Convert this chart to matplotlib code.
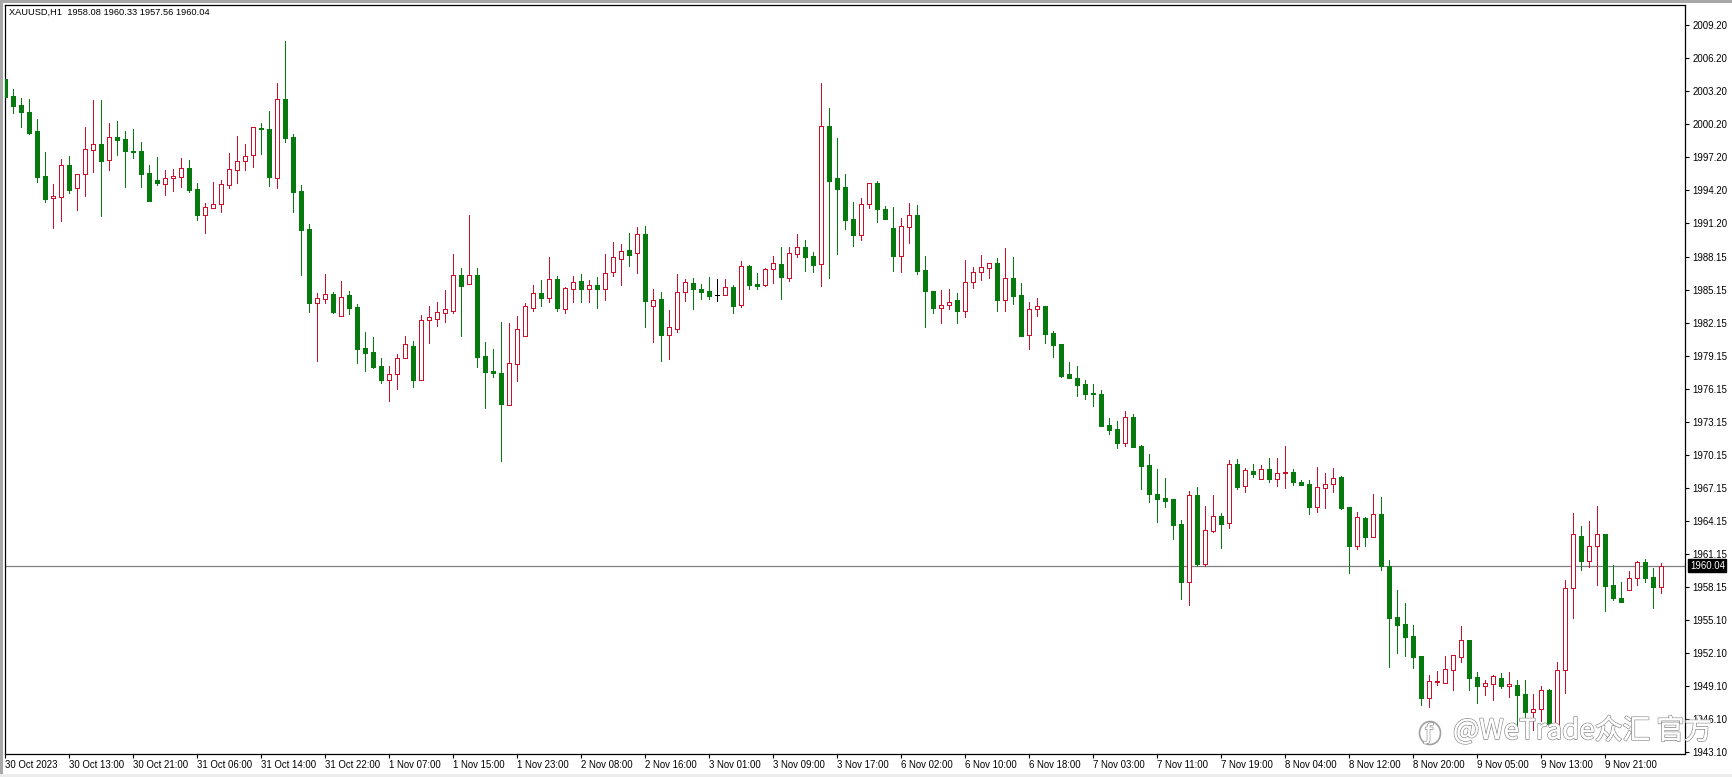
"""
XAUUSD H1 candle chart in the MT4 look: hollow red up candles, filled green down candles.
"""

import matplotlib
matplotlib.use("Agg")
import matplotlib.pyplot as plt
from matplotlib import patheffects as pe
from matplotlib.patches import Ellipse

W, H = 1733, 777

# G = down (filled green), R = up (hollow red), K = open equals close (black)
directions = (
    "GGGGGGRRGR" "RRGRGGGGGG" "RRRGGRRRRR" "RRGGRGGGGR" "RGRGGGGGRR"
    "RGRRRRRGRG" "GGGRRRRGRG" "RRGRGRRRGR" "GRGRRRGGGK" "RGRGGRRGRR"
    "GGRGGGGRRG" "GGRRGGGRRG" "RRRRGRGGRR" "GGGGGGGGGG" "RGGGGGGGRG"
    "RRGRGRGRGR" "RGGGRRRGGR" "GRGGGGGGRR" "RRRGGRRGRG" "GRRGRRRGRR"
    "GGGRRGGR"
)

highs = [
    2004.65, 2003.35, 2002.56, 2002.47, 2000.62, 1997.62, 1994.72, 1996.99, 1997.26, 1995.62,
    1999.92, 2002.38, 2002.38, 2000.26, 2000.44, 1999.56, 1999.71, 1998.53, 1996.44, 1997.20,
    1995.99, 1996.08, 1997.08, 1996.90, 1994.81, 1992.99, 1994.92, 1995.08, 1997.53, 1999.11,
    1998.35, 1999.92, 2000.32, 2001.38, 2003.92, 2007.72, 1999.29, 1994.62, 1991.11, 1984.86,
    1986.56, 1984.95, 1985.92, 1984.99, 1983.81, 1981.26, 1980.81, 1978.90, 1978.17, 1979.29,
    1980.92, 1980.47, 1982.81, 1983.62, 1983.99, 1985.11, 1988.35, 1987.08, 1991.92, 1987.08,
    1980.35, 1979.72, 1982.20, 1982.08, 1982.71, 1983.90, 1985.56, 1986.02, 1988.11, 1986.35,
    1985.35, 1986.38, 1986.53, 1986.02, 1986.26, 1988.35, 1989.44, 1989.26, 1990.29, 1990.81,
    1990.92, 1985.17, 1984.90, 1983.29, 1986.56, 1986.08, 1986.17, 1985.62, 1986.29, 1986.08,
    1986.11, 1985.53, 1987.71, 1987.35, 1986.62, 1987.13, 1988.20, 1989.02, 1989.04, 1990.20,
    1989.65, 1988.56, 2003.92, 2001.65, 1998.92, 1995.62, 1993.11, 1993.44, 1994.86, 1994.99,
    1992.74, 1992.65, 1991.62, 1993.02, 1992.83, 1988.17, 1985.02, 1985.11, 1985.17, 1984.80,
    1987.81, 1987.23, 1988.26, 1987.53, 1987.99, 1988.92, 1988.11, 1985.74, 1983.99, 1984.38,
    1983.65, 1981.35, 1980.17, 1978.56, 1978.20, 1976.92, 1976.53, 1976.02, 1973.47, 1973.17,
    1974.08, 1973.81, 1970.99, 1970.17, 1968.83, 1968.02, 1966.11, 1964.20, 1966.83, 1967.20,
    1965.47, 1966.47, 1964.80, 1969.65, 1969.77, 1968.90, 1969.29, 1969.20, 1969.83, 1969.83,
    1970.92, 1968.81, 1967.81, 1967.81, 1969.02, 1968.47, 1968.90, 1968.17, 1965.38, 1964.92,
    1964.47, 1966.53, 1966.26, 1960.56, 1957.83, 1956.65, 1954.65, 1951.86, 1950.11, 1950.47,
    1951.81, 1951.90, 1954.56, 1953.26, 1950.38, 1949.62, 1950.08, 1950.29, 1950.38, 1949.62,
    1949.62, 1948.38, 1949.13, 1948.80, 1951.26, 1958.72, 1964.80, 1963.68, 1964.08, 1965.47,
    1962.90, 1960.08, 1958.56, 1959.56, 1960.44, 1960.65, 1959.81, 1960.33,
]

body_tops = [
    2004.26, 2002.72, 2001.90, 2001.26, 1999.53, 1995.44, 1993.62, 1996.44, 1996.44, 1995.62,
    1997.90, 1998.35, 1998.35, 1998.99, 1999.02, 1998.81, 1997.72, 1997.74, 1995.74, 1995.08,
    1995.32, 1995.44, 1996.17, 1996.20, 1994.26, 1992.62, 1992.90, 1994.72, 1996.08, 1996.81,
    1997.26, 1999.92, 1999.83, 1999.74, 2002.44, 2002.47, 1999.02, 1994.11, 1990.63, 1984.35,
    1984.71, 1984.71, 1984.44, 1984.65, 1983.53, 1979.81, 1979.44, 1978.17, 1977.44, 1978.90,
    1980.17, 1980.02, 1982.35, 1982.62, 1983.08, 1983.35, 1986.44, 1986.44, 1986.44, 1986.44,
    1979.08, 1977.72, 1977.53, 1978.44, 1981.53, 1983.62, 1984.81, 1984.83, 1986.08, 1986.11,
    1985.26, 1985.81, 1985.90, 1985.53, 1985.56, 1986.62, 1988.08, 1988.68, 1988.74, 1990.17,
    1990.20, 1984.17, 1984.29, 1981.71, 1984.90, 1985.81, 1985.72, 1985.20, 1985.02, 1984.69,
    1985.35, 1985.38, 1987.26, 1987.26, 1985.62, 1986.99, 1987.53, 1987.47, 1988.44, 1988.99,
    1989.02, 1988.20, 1999.99, 2000.02, 1995.29, 1994.47, 1991.56, 1992.90, 1994.83, 1994.83,
    1992.47, 1990.71, 1990.90, 1991.90, 1991.92, 1986.90, 1985.02, 1983.71, 1984.04, 1984.20,
    1985.81, 1986.71, 1987.17, 1987.53, 1987.56, 1986.17, 1986.17, 1984.65, 1983.35, 1983.62,
    1983.65, 1981.17, 1980.17, 1977.47, 1977.08, 1976.56, 1975.71, 1975.65, 1972.81, 1972.47,
    1973.53, 1973.56, 1970.92, 1969.20, 1966.53, 1966.17, 1966.08, 1963.83, 1966.44, 1966.44,
    1963.26, 1964.53, 1964.56, 1969.26, 1969.29, 1968.72, 1968.63, 1968.81, 1968.81, 1968.50,
    1968.53, 1968.53, 1967.65, 1967.47, 1967.17, 1967.50, 1968.04, 1968.11, 1965.35, 1964.44,
    1964.38, 1964.71, 1964.71, 1960.04, 1955.35, 1954.72, 1953.62, 1951.83, 1949.53, 1949.56,
    1950.62, 1951.90, 1953.26, 1953.26, 1949.90, 1949.35, 1950.04, 1949.81, 1949.26, 1949.17,
    1948.35, 1946.99, 1948.72, 1948.72, 1950.53, 1957.99, 1962.90, 1962.71, 1961.81, 1962.90,
    1962.90, 1958.26, 1957.08, 1958.90, 1960.38, 1960.35, 1958.99, 1960.04,
]

body_bottoms = [
    2002.68, 2001.86, 2001.32, 1999.38, 1995.41, 1993.41, 1993.50, 1993.59, 1994.20, 1994.35,
    1995.62, 1997.81, 1996.86, 1996.90, 1998.77, 1997.77, 1997.65, 1995.68, 1993.22, 1994.83,
    1994.77, 1995.32, 1995.41, 1994.20, 1991.95, 1991.95, 1992.59, 1992.90, 1994.68, 1996.04,
    1996.81, 1997.35, 1999.77, 1995.41, 1995.32, 1998.92, 1994.04, 1990.59, 1983.95, 1983.95,
    1984.32, 1983.11, 1982.77, 1983.50, 1979.77, 1979.41, 1978.11, 1976.92, 1976.95, 1977.44,
    1978.90, 1976.95, 1976.95, 1982.35, 1982.50, 1983.04, 1983.22, 1985.50, 1985.62, 1979.04,
    1977.68, 1977.59, 1974.77, 1974.68, 1978.35, 1980.90, 1983.50, 1984.41, 1984.41, 1983.47,
    1983.41, 1985.23, 1985.23, 1985.23, 1985.23, 1985.23, 1986.71, 1987.95, 1988.29, 1988.44,
    1984.13, 1983.68, 1981.02, 1981.04, 1981.59, 1984.90, 1985.21, 1984.95, 1984.53, 1984.69,
    1984.68, 1983.68, 1983.74, 1985.56, 1985.44, 1985.56, 1986.99, 1986.32, 1986.22, 1988.41,
    1988.11, 1987.38, 1987.44, 1995.04, 1994.32, 1991.50, 1990.13, 1990.13, 1992.95, 1992.50,
    1991.56, 1988.23, 1988.23, 1990.86, 1986.81, 1985.04, 1983.47, 1983.50, 1983.77, 1983.20,
    1983.22, 1985.86, 1986.71, 1987.13, 1984.20, 1984.23, 1984.59, 1980.95, 1981.04, 1983.35,
    1981.11, 1980.12, 1977.29, 1977.11, 1976.50, 1975.65, 1975.65, 1972.77, 1972.41, 1971.22,
    1971.22, 1970.86, 1969.13, 1966.59, 1966.11, 1965.92, 1963.74, 1958.56, 1958.59, 1960.20,
    1960.20, 1963.23, 1963.83, 1963.90, 1967.20, 1967.32, 1968.38, 1967.95, 1967.95, 1967.95,
    1968.47, 1967.65, 1967.41, 1965.41, 1965.41, 1967.13, 1967.50, 1965.29, 1961.86, 1961.86,
    1962.65, 1962.68, 1960.03, 1955.32, 1954.65, 1953.56, 1951.74, 1948.04, 1948.04, 1949.47,
    1949.41, 1950.59, 1951.77, 1949.86, 1949.11, 1949.13, 1949.32, 1949.11, 1949.13, 1948.32,
    1946.77, 1946.77, 1946.99, 1945.62, 1945.68, 1950.53, 1958.04, 1960.50, 1960.50, 1961.81,
    1958.23, 1957.13, 1956.74, 1957.86, 1958.90, 1958.95, 1958.14, 1958.08,
]

lows = [
    2001.74, 2001.22, 1999.95, 1999.32, 1994.90, 1993.13, 1990.77, 1991.38, 1993.95, 1992.38,
    1993.68, 1995.86, 1991.86, 1996.04, 1997.38, 1994.50, 1997.13, 1994.50, 1993.22, 1994.62,
    1993.77, 1994.13, 1994.50, 1994.04, 1991.47, 1990.31, 1992.53, 1992.23, 1994.41, 1994.86,
    1996.02, 1996.25, 1997.50, 1994.56, 1994.38, 1998.59, 1992.20, 1986.47, 1983.13, 1978.65,
    1983.95, 1983.04, 1982.72, 1982.92, 1978.50, 1977.77, 1978.04, 1976.68, 1975.04, 1976.11,
    1978.90, 1976.31, 1976.95, 1980.32, 1981.86, 1982.23, 1983.04, 1980.95, 1985.62, 1978.13,
    1974.41, 1977.23, 1969.56, 1974.62, 1976.83, 1980.90, 1983.22, 1983.68, 1984.04, 1983.22,
    1983.04, 1984.02, 1984.04, 1984.04, 1983.50, 1984.23, 1986.41, 1985.59, 1987.32, 1986.68,
    1981.77, 1980.38, 1978.65, 1978.86, 1981.32, 1984.11, 1983.38, 1984.29, 1984.32, 1984.13,
    1984.68, 1983.04, 1983.59, 1985.20, 1985.20, 1985.47, 1985.71, 1984.29, 1985.92, 1988.11,
    1986.83, 1986.74, 1985.47, 1986.23, 1988.38, 1990.65, 1989.11, 1989.68, 1992.56, 1991.29,
    1991.56, 1986.86, 1986.74, 1989.41, 1986.56, 1981.77, 1983.04, 1982.08, 1983.38, 1982.08,
    1982.65, 1985.29, 1986.02, 1986.20, 1983.22, 1983.22, 1983.86, 1980.95, 1979.77, 1982.74,
    1980.32, 1979.02, 1977.20, 1977.11, 1975.47, 1975.22, 1974.59, 1972.74, 1972.04, 1970.77,
    1970.95, 1970.83, 1967.04, 1965.83, 1964.04, 1965.38, 1962.47, 1957.04, 1956.47, 1960.04,
    1960.04, 1963.08, 1961.65, 1963.50, 1967.02, 1966.77, 1968.14, 1967.92, 1967.65, 1967.32,
    1967.13, 1967.38, 1967.35, 1964.74, 1964.92, 1965.32, 1966.77, 1965.20, 1959.38, 1961.59,
    1961.83, 1962.68, 1959.65, 1950.86, 1952.08, 1951.83, 1950.74, 1947.38, 1947.23, 1949.20,
    1949.38, 1948.74, 1951.29, 1948.74, 1947.59, 1948.32, 1947.83, 1948.92, 1948.13, 1945.56,
    1946.26, 1945.11, 1945.95, 1945.56, 1945.62, 1948.44, 1955.26, 1959.68, 1959.95, 1958.26,
    1955.95, 1956.90, 1956.74, 1957.83, 1958.32, 1958.59, 1956.23, 1957.56,
]

y_tick_labels = [
    "2009.20", "2006.20", "2003.20", "2000.20", "1997.20", "1994.20", "1991.20", "1988.15",
    "1985.15", "1982.15", "1979.15", "1976.15", "1973.15", "1970.15", "1967.15", "1964.15",
    "1961.15", "1958.15", "1955.10", "1952.10", "1949.10", "1946.10", "1943.10",
]
x_tick_labels = [
    "30 Oct 2023", "30 Oct 13:00", "30 Oct 21:00", "31 Oct 06:00", "31 Oct 14:00", "31 Oct 22:00",
    "1 Nov 07:00", "1 Nov 15:00", "1 Nov 23:00", "2 Nov 08:00", "2 Nov 16:00", "3 Nov 01:00",
    "3 Nov 09:00", "3 Nov 17:00", "6 Nov 02:00", "6 Nov 10:00", "6 Nov 18:00", "7 Nov 03:00",
    "7 Nov 11:00", "7 Nov 19:00", "8 Nov 04:00", "8 Nov 12:00", "8 Nov 20:00", "9 Nov 05:00",
    "9 Nov 13:00", "9 Nov 21:00",
]
last_price = 1960.04
header = "XAUUSD,H1  1958.08 1960.33 1957.56 1960.04"

GREEN = "#067a0e"
RED = "#cc0f2b"
FONT = ["Liberation Sans", "DejaVu Sans"]
FS = 6.9
THIN = 0.7  # under one pixel, so unsmoothed lines stay one pixel wide


def main():
    plt.rcParams["font.family"] = FONT
    fig = plt.figure(figsize=(W / 100, H / 100), dpi=100, facecolor="white")

    # gray window frame on the left and top, pale strip at the bottom
    fig.add_artist(plt.Rectangle((0, 0), 3 / W, 1, transform=fig.transFigure, facecolor="#a8a8a8", edgecolor="none"))
    fig.add_artist(plt.Rectangle((0, 1 - 3 / H), 1, 3 / H, transform=fig.transFigure, facecolor="#a8a8a8", edgecolor="none"))
    fig.add_artist(plt.Rectangle((0, 0), 1, 3 / H, transform=fig.transFigure, facecolor="#ececec", edgecolor="none"))

    ax = fig.add_axes([4.5 / W, 1 - 754 / H, (1685 - 4.5) / W, (754 - 4.5) / H])
    ax.set_xlim(-0.0625, 210)
    ax.set_ylim(2011.47 - 754 / 11, 2011.47 - 4.5 / 11)

    ax.axhline(last_price, color="#808080", linewidth=0.9, zorder=1)

    wick_colors = {"G": GREEN, "R": RED, "K": "black"}
    for i, d in enumerate(directions):
        c = wick_colors[d]
        ax.vlines(i, lows[i], highs[i], color=c, linewidth=THIN, zorder=2, antialiased=False)
        if d == "K":
            ax.hlines(body_tops[i], i - 0.3, i + 0.3, color=c, linewidth=THIN, zorder=3, antialiased=False)
            continue
        ax.bar(i, body_tops[i] - body_bottoms[i], bottom=body_bottoms[i], width=0.5,
               facecolor=GREEN if d == "G" else "white", edgecolor=c, linewidth=THIN, zorder=3,
               antialiased=False)

    ax.xaxis.tick_bottom()
    ax.yaxis.tick_right()
    ax.set_xticks(range(0, 8 * len(x_tick_labels), 8))
    ax.set_xticklabels(x_tick_labels, ha="left", fontsize=FS)
    ax.set_yticks([float(v) for v in y_tick_labels])
    ax.set_yticklabels(y_tick_labels, fontsize=FS)
    ax.tick_params(axis="x", length=3, width=0.8, pad=1.5)
    ax.tick_params(axis="y", length=3, width=0.8, pad=2.5)
    for s in ax.spines.values():
        s.set_linewidth(0.9)

    fig.text(9 / W, 1 - 12.5 / H, header, fontsize=6.7, va="center")

    # current price tag on the axis
    ax.annotate("1960.04", xy=(1, last_price), xycoords=("axes fraction", "data"),
                xytext=(3.5, 0), textcoords="offset points", color="white", fontsize=FS,
                va="center", ha="left", annotation_clip=False,
                bbox=dict(boxstyle="square,pad=0.15", facecolor="black", edgecolor="black"),
                zorder=6)

    # watermark
    halo = [pe.withStroke(linewidth=1.3, foreground="#9a9a9a"), pe.Normal()]
    fig.text(1453 / W, 1 - 731 / H, "@WeTrade众汇 官方", fontsize=20, color="white",
             family=["Noto Sans CJK SC", "DejaVu Sans"], va="center", path_effects=halo, zorder=7)
    fig.text(1429 / W, 1 - 733 / H, "ƒ", fontsize=15, color="white", ha="center", va="center",
             family="DejaVu Sans", path_effects=halo, zorder=7)
    fig.add_artist(Ellipse((1430 / W, 1 - 733 / H), 21 / W, 23 / H, transform=fig.transFigure,
                           facecolor="none", edgecolor="#a0a0a0", linewidth=1.2, zorder=7))

    fig.savefig("out.png", dpi=100)


if __name__ == "__main__":
    main()
